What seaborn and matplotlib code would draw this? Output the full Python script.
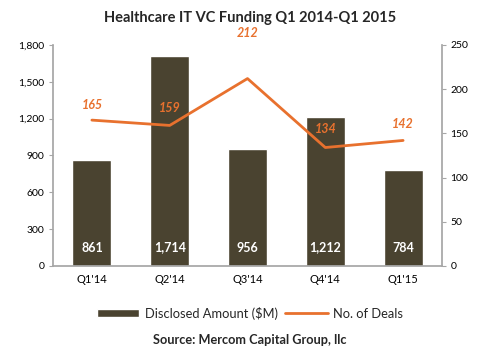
import matplotlib
matplotlib.use("Agg")
import matplotlib.pyplot as plt
import seaborn as sns
import pandas as pd
from matplotlib.patches import Patch
from matplotlib.lines import Line2D

quarters = ["Q1'14", "Q2'14", "Q3'14", "Q4'14", "Q1'15"]
amounts = [861, 1714, 956, 1212, 784]
deals = [165, 159, 212, 134, 142]
left_ticks = [0, 300, 600, 900, 1200, 1500, 1800]
right_ticks = [0, 50, 100, 150, 200, 250]

sns.set_theme(style="white")
plt.rcParams['font.family'] = ['Lato', 'DejaVu Sans']

bar_color = "#4a4330"
line_color = "#e8712e"
axis_gray = "#a6a6a6"

df = pd.DataFrame({"quarter": quarters, "amount": amounts, "deals": deals})

fig = plt.figure(figsize=(5, 3.57), dpi=100)
ax = fig.add_axes([0.106, 0.255, 0.778, 0.619])
sns.barplot(data=df, x="quarter", y="amount", color=bar_color, width=0.5,
            saturation=1, ax=ax)
ax.set_ylim(0, 1800)
ax.set_yticks(left_ticks)
ax.set_yticklabels([f"{t:,}" for t in left_ticks])
ax.set_xlabel("")
ax.set_ylabel("")
for i, v in enumerate(amounts):
    ax.text(i, 150, f"{v:,}", ha="center", va="center", color="white",
            fontsize=9, fontweight="bold")

ax2 = ax.twinx()
sns.lineplot(x=list(range(len(quarters))), y=deals, color=line_color,
             linewidth=2, ax=ax2)
ax2.set_ylim(0, 250)
ax2.set_yticks(right_ticks)
ax.set_xlim(-0.5, len(quarters) - 0.5)
label_offsets = [15, 17, 46, 19, 16]
for i, (v, off) in enumerate(zip(deals, label_offsets)):
    ax2.annotate(str(v), (i, v), xytext=(0, off), textcoords="offset pixels",
                 ha="center", va="center", color=line_color, fontsize=9,
                 fontweight="bold", fontstyle="italic", annotation_clip=False)

for a in (ax, ax2):
    for s in a.spines.values():
        s.set_visible(False)
    a.tick_params(axis="both", labelsize=7.5, colors="black", length=3,
                  width=0.8, color=axis_gray, pad=3)
    a.grid(False)
ax.spines["left"].set_visible(True)
ax.spines["left"].set_color(axis_gray)
ax.spines["bottom"].set_visible(True)
ax.spines["bottom"].set_color(axis_gray)
ax2.spines["right"].set_visible(True)
ax2.spines["right"].set_color(axis_gray)
ax.tick_params(axis="x", length=0, labelsize=8, pad=6)
ax2.tick_params(axis="y", left=False, right=True, direction="out")
ax.tick_params(axis="y", direction="out")

fig.text(0.5, 0.95, "Healthcare IT VC Funding Q1 2014-Q1 2015", ha="center",
         va="center", fontsize=10.5, fontweight="bold")

handles = [Patch(facecolor=bar_color, label="Disclosed Amount ($M)"),
           Line2D([0], [0], color=line_color, lw=2, label="No. of Deals")]
fig.legend(handles=handles, loc="center", bbox_to_anchor=(0.5, 0.123),
           ncol=2, frameon=False, fontsize=9.3, handlelength=3.3,
           handleheight=0.5, columnspacing=0.6, handletextpad=0.4)

fig.text(0.5, 0.048, "Source: Mercom Capital Group, llc", ha="center",
         va="center", fontsize=9.2, fontweight="bold")

fig.savefig("out.png", dpi=100)
